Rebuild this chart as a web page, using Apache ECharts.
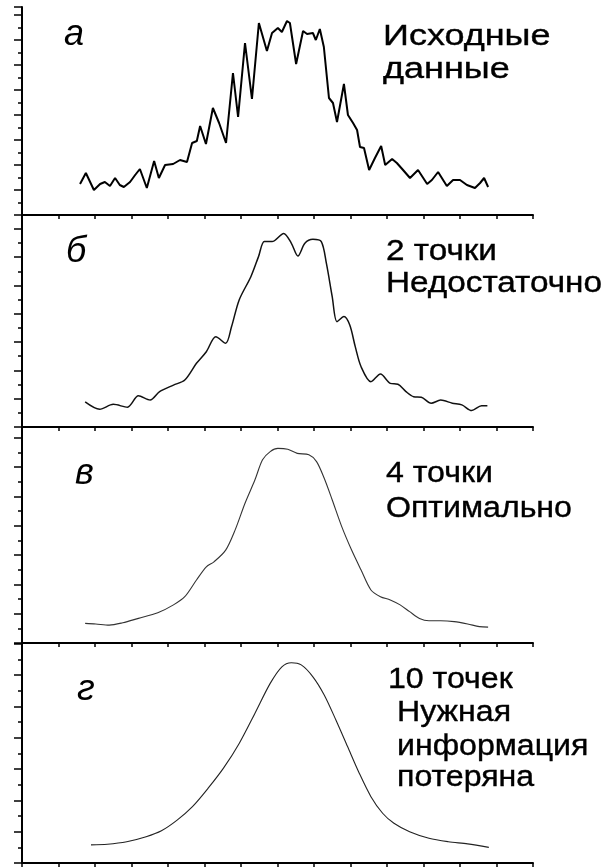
<!DOCTYPE html>
<html><head><meta charset="utf-8">
<script src="https://cdn.jsdelivr.net/npm/echarts@6/dist/echarts.min.js"></script>
<style>html,body{margin:0;padding:0;background:#fff}#c{width:611px;height:868px}</style>
</head><body><div id="c"></div>
<script>
// Panel а — исходные данные
const aX = [1.59,1.75,1.97,2.14,2.27,2.41,2.55,2.68,2.79,2.96,3.10,3.23,3.42,3.62,3.75,3.92,4.14,4.33,4.52,4.66,4.79,4.88,5.04,5.23,5.40,5.59,5.78,5.92,6.11,6.30,6.49,6.71,6.85,7.01,7.12,7.26,7.34,7.51,7.70,7.81,7.97,8.05,8.16,8.27,8.41,8.52,8.63,8.82,8.93,9.07,9.18,9.26,9.37,9.51,9.67,9.84,9.95,10.14,10.27,10.44,10.63,10.85,11.10,11.23,11.40,11.64,11.81,12.00,12.19,12.41,12.55,12.66,12.77];
const aY = [1.24,1.68,1.00,1.24,1.32,1.16,1.48,1.20,1.12,1.32,1.60,1.84,1.08,2.16,1.48,2.00,2.04,2.20,2.12,2.88,2.96,3.56,2.84,4.28,3.68,2.88,5.68,3.92,6.88,4.64,7.68,6.56,7.28,7.48,7.32,7.76,7.68,6.04,7.36,7.24,7.28,7.00,7.44,6.72,4.68,4.48,3.72,5.24,4.00,3.68,3.40,2.72,2.68,1.80,2.28,2.76,2.00,2.24,2.08,1.80,1.48,1.80,1.24,1.40,1.72,1.16,1.40,1.40,1.20,1.08,1.28,1.48,1.12];
// Panel б — 2 точки
const bX = [1.73,2.13,2.50,2.89,3.19,3.51,3.77,4.15,4.46,4.78,5.05,5.31,5.58,5.74,5.95,6.27,6.48,6.64,6.85,7.17,7.38,7.56,7.75,7.97,8.20,8.34,8.50,8.63,8.82,8.98,9.13,9.29,9.56,9.82,10.09,10.30,10.52,10.73,10.94,11.21,11.47,11.79,12.05,12.32,12.59,12.75];
const bY = [0.89,0.63,0.80,0.70,1.10,0.95,1.25,1.48,1.66,2.25,2.66,3.19,2.96,3.54,4.49,5.31,6.02,6.55,6.55,6.84,6.49,6.04,6.49,6.63,6.55,5.78,4.60,3.72,3.90,3.60,2.84,2.13,1.60,1.87,1.54,1.51,1.25,1.07,1.05,0.84,0.95,0.84,0.78,0.58,0.75,0.75];
// Panel в — 4 точки
const cX = [1.73,2.02,2.39,2.76,3.19,3.72,4.15,4.46,4.78,5.05,5.26,5.58,5.84,6.11,6.38,6.59,6.80,7.01,7.28,7.54,7.86,8.07,8.28,8.50,8.76,9.03,9.29,9.56,9.82,10.09,10.36,10.62,10.89,11.15,11.47,11.84,12.21,12.53,12.77];
const cY = [0.67,0.65,0.61,0.69,0.84,1.03,1.30,1.58,2.15,2.60,2.77,3.17,3.86,4.77,5.56,6.25,6.53,6.64,6.61,6.47,6.42,6.19,5.62,4.88,3.97,3.17,2.49,1.81,1.58,1.47,1.30,1.07,0.84,0.76,0.76,0.73,0.65,0.56,0.54];
// Panel г — 10 точек
const dX = [1.89,2.34,2.87,3.40,3.82,4.25,4.67,5.10,5.52,5.95,6.38,6.80,7.12,7.38,7.65,7.97,8.28,8.60,8.92,9.24,9.56,9.88,10.19,10.62,11.15,11.68,12.21,12.79];
const dY = [0.58,0.60,0.68,0.84,1.03,1.37,1.80,2.39,3.03,3.82,4.78,5.74,6.27,6.40,6.33,5.95,5.37,4.57,3.72,2.87,2.12,1.59,1.27,1.00,0.79,0.68,0.61,0.50];

const panelLetters = ['а','б','в','г'];
const panelNotes = [['Исходные','данные'],['2 точки','Недостаточно'],['4 точки','Оптимально'],['10 точек','Нужная','информация','потеряна']];

const zip = (xs, ys) => xs.map((x, i) => [x, ys[i]]);
const series = [zip(aX,aY), zip(bX,bY), zip(cX,cY), zip(dX,dY)];

const L = 22, W = 511;
const tops = [7, 215, 427, 643];
const heights = [208, 212, 216, 220];
const ymax = [8.32, 7.49, 7.37, 7.03];
const lineW = [2, 1.5, 1.1, 1.1];
const lineC = ['#000', '#111', '#333', '#222'];
const smooth = [false, 0.3, 0.3, 0.3];

const grid = [], xAxis = [], yAxis = [], ser = [];
for (let i = 0; i < 4; i++) {
  grid.push({left: L, top: tops[i], width: W, height: heights[i]});
  xAxis.push({type: 'value', gridIndex: i, min: 0, max: 14, interval: 1,
    axisLine: {show: true, lineStyle: {color: '#000', width: 2}},
    axisTick: {show: true, length: 4, lineStyle: {color: '#000', width: 1.5}},
    axisLabel: {show: false}, splitLine: {show: false}});
  yAxis.push({type: 'value', gridIndex: i, min: 0, max: ymax[i], interval: 1,
    axisLine: {show: true, lineStyle: {color: '#000', width: 2}},
    axisTick: {show: true, length: 8, lineStyle: {color: '#000', width: 1.5}},
    minorTick: {show: true, splitNumber: 2, length: 4, lineStyle: {color: '#000', width: 1.5}},
    axisLabel: {show: false}, splitLine: {show: false}, minorSplitLine: {show: false}});
  ser.push({type: 'line', xAxisIndex: i, yAxisIndex: i, data: series[i], showSymbol: false,
    smooth: smooth[i], lineStyle: {color: lineC[i], width: lineW[i]}, silent: true});
}

const sans = '"Liberation Sans", Arial, sans-serif';
const noteFont = '30px ' + sans;
const noteScaleX = [1.2, 1.11, 1.07, 1.07];
const letterFont = 'italic 36px ' + sans;
const letterPos = [[64, 35], [66, 252], [75, 474], [77, 690]];
const notePos = [
  [[383, 37], [383, 70]],
  [[386, 252], [386, 284]],
  [[386, 474], [386, 509]],
  [[388, 680], [397, 713], [397, 747], [397, 778]]
];
const graphic = [];
for (let i = 0; i < 4; i++) {
  graphic.push({type: 'text', x: letterPos[i][0], y: letterPos[i][1],
    style: {text: panelLetters[i], font: letterFont, fill: '#000', textAlign: 'left', textVerticalAlign: 'middle'}});
  panelNotes[i].forEach((t, j) => {
    graphic.push({type: 'text', x: notePos[i][j][0], y: notePos[i][j][1], scaleX: noteScaleX[i],
      style: {text: t, font: noteFont, fill: '#000', stroke: '#000', lineWidth: 0.4,
        textAlign: 'left', textVerticalAlign: 'middle'}});
  });
}

const chart = echarts.init(document.getElementById('c'), null, {renderer: 'canvas'});
chart.setOption({animation: false, backgroundColor: '#fff', grid, xAxis, yAxis, series: ser, graphic});
</script></body></html>
